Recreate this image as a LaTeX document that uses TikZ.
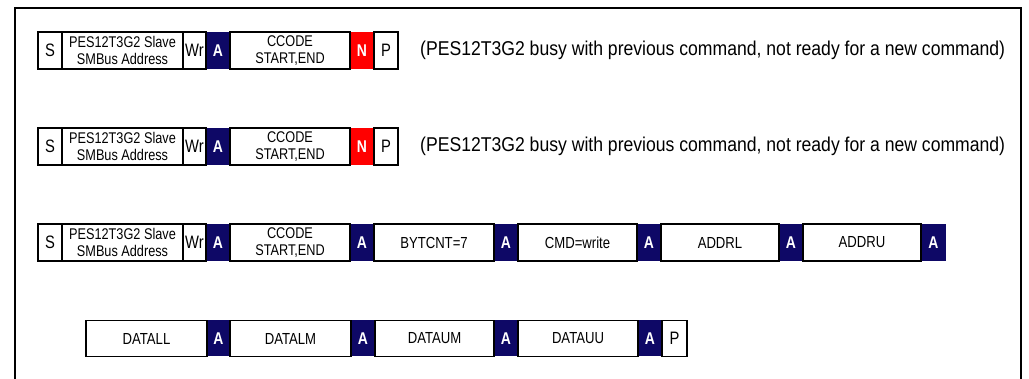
\documentclass[tikz,border=0pt]{standalone}
\usepackage{fontspec}
\usepackage{xcolor}
\setmainfont{Liberation Sans}
\newfontfamily\narrowfont[FakeStretch=0.82]{Liberation Sans}
\newfontfamily\notefont[FakeStretch=0.88]{Liberation Sans}
\definecolor{acknavy}{RGB}{14,8,102}

\begin{document}
\begin{tikzpicture}[x=1pt, y=-1pt,
  field/.style={draw, line width=1.5pt, minimum height=37pt, inner sep=0pt, outer sep=0pt, font=\narrowfont\fontsize{16}{17}\selectfont},
  bitfield/.style={field, font=\narrowfont\fontsize{18}{19}\selectfont},
  twoline/.style={field, align=center, font=\narrowfont\fontsize{15.5}{17.5}\selectfont},
  ackbox/.style={fill=acknavy, text=white, minimum height=37pt, minimum width=24pt, inner sep=0pt, outer sep=0pt, font=\narrowfont\bfseries\fontsize{17}{18}\selectfont},
  nackbox/.style={ackbox, fill=red},
  note/.style={anchor=west, inner sep=0pt, font=\notefont\fontsize{20}{21}\selectfont}]
\useasboundingbox (0,0) rectangle (1029,379);

% frame
\draw[line width=2pt] (15,379) -- (15,8) -- (1021,8) -- (1021,379);

% row 1
\node[ackbox] at (218,50.5) (a11) {A};
\node[nackbox] at (362,50.5) (n1) {N};
\node[bitfield, minimum width=24pt] at (50,50.5) (s1) {S};
\node[twoline, minimum width=121pt] at (122.5,50.5) (addr1) {PES12T3G2 Slave\\SMBus Address};
\node[bitfield, minimum width=23pt] at (194.5,50.5) (wr1) {Wr};
\node[twoline, minimum width=120pt] at (290,50.5) (cc1) {CCODE\\START,END};
\node[bitfield, minimum width=24pt] at (386,50.5) (p1) {P};
\node[note] at (420,50.5) (busy1) {(PES12T3G2 busy with previous command, not ready for a new command)};

% row 2
\node[ackbox] at (218,146.5) (a21) {A};
\node[nackbox] at (362,146.5) (n2) {N};
\node[bitfield, minimum width=24pt] at (50,146.5) (s2) {S};
\node[twoline, minimum width=121pt] at (122.5,146.5) (addr2) {PES12T3G2 Slave\\SMBus Address};
\node[bitfield, minimum width=23pt] at (194.5,146.5) (wr2) {Wr};
\node[twoline, minimum width=120pt] at (290,146.5) (cc2) {CCODE\\START,END};
\node[bitfield, minimum width=24pt] at (386,146.5) (p2) {P};
\node[note] at (420,146.5) (busy2) {(PES12T3G2 busy with previous command, not ready for a new command)};

% row 3
\node[ackbox] at (218,242.5) (a31) {A};
\node[ackbox] at (362,242.5) (a32) {A};
\node[ackbox] at (506,242.5) (a33) {A};
\node[ackbox] at (649,242.5) (a34) {A};
\node[ackbox] at (791,242.5) (a35) {A};
\node[ackbox, minimum width=25pt] at (933.5,242.5) (a36) {A};
\node[bitfield, minimum width=24pt] at (50,242.5) (s3) {S};
\node[twoline, minimum width=121pt] at (122.5,242.5) (addr3) {PES12T3G2 Slave\\SMBus Address};
\node[bitfield, minimum width=23pt] at (194.5,242.5) (wr3) {Wr};
\node[twoline, minimum width=120pt] at (290,242.5) (cc3) {CCODE\\START,END};
\node[field, minimum width=120pt] at (434,242.5) (bytcnt) {BYTCNT=7};
\node[field, minimum width=119pt] at (577.5,242.5) (cmd) {CMD=write};
\node[field, minimum width=118pt] at (720,242.5) (addrl) {ADDRL};
\node[field, minimum width=118pt] at (862,242.5) (addru) {ADDRU};

% row 4
\node[ackbox, minimum width=23pt, minimum height=36pt] at (218.5,338.5) (a41) {A};
\node[ackbox, minimum height=36pt] at (363,338.5) (a42) {A};
\node[ackbox, minimum height=36pt] at (506,338.5) (a43) {A};
\node[ackbox, minimum height=36pt] at (650,338.5) (a44) {A};
\node[field, minimum width=121pt, minimum height=36pt] at (146.5,338.5) (datall) {DATALL};
\node[field, minimum width=121pt, minimum height=36pt] at (290.5,338.5) (datalm) {DATALM};
\node[field, minimum width=119pt, minimum height=36pt] at (434.5,338.5) (dataum) {DATAUM};
\node[field, minimum width=120pt, minimum height=36pt] at (578,338.5) (datauu) {DATAUU};
\node[bitfield, minimum width=25pt, minimum height=36pt] at (674.5,338.5) (p4) {P};

\end{tikzpicture}
\end{document}
